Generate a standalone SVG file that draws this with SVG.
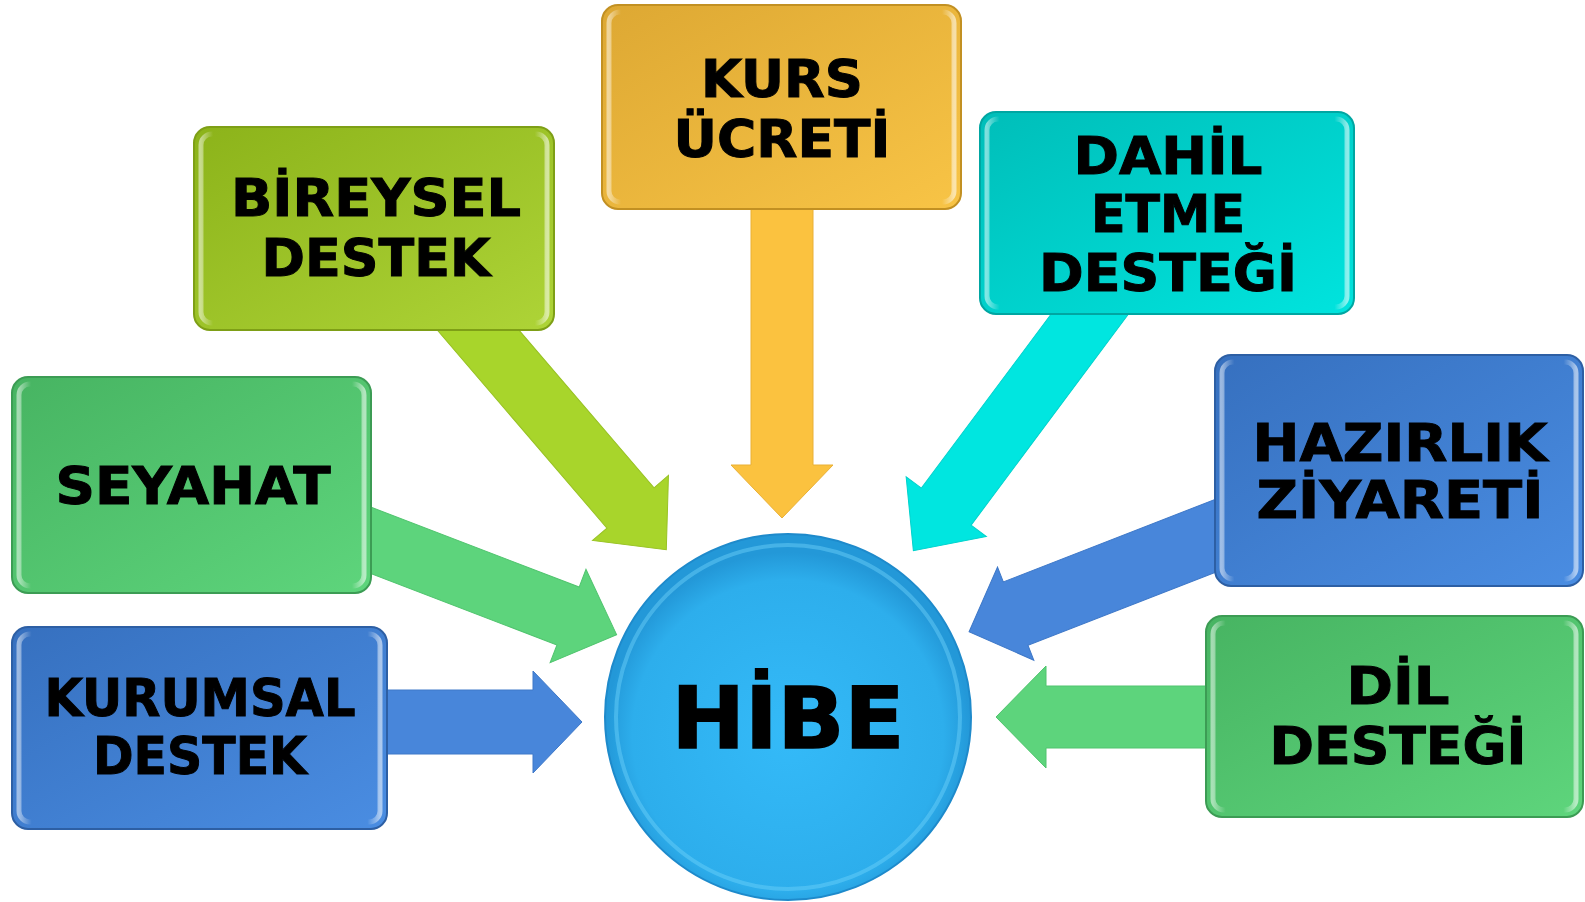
<svg xmlns="http://www.w3.org/2000/svg" width="1585" height="902" viewBox="0 0 1585 902">
<style>
text{font-family:"DejaVu Sans",Verdana,"Liberation Sans",sans-serif;font-weight:bold;fill:#000;stroke:#000;stroke-width:1;text-anchor:middle;font-size:52px}
.hibe{font-size:86px;stroke-width:1.5}
.bev{fill:none;stroke:url(#bevel);stroke-width:5}
.arr{stroke-width:1;stroke-linejoin:miter}
</style>
<defs>
<linearGradient id="gLime" x1="0" y1="0" x2="1" y2="1"><stop offset="0" stop-color="#8CB31A"/><stop offset="1" stop-color="#AED437"/></linearGradient>
<linearGradient id="gGold" x1="0" y1="0" x2="1" y2="1"><stop offset="0" stop-color="#DDA833"/><stop offset="1" stop-color="#F8C446"/></linearGradient>
<linearGradient id="gCyan" x1="0" y1="0" x2="1" y2="1"><stop offset="0" stop-color="#00BEB9"/><stop offset="1" stop-color="#00E4DE"/></linearGradient>
<linearGradient id="gGreen" x1="0" y1="0" x2="1" y2="1"><stop offset="0" stop-color="#47B462"/><stop offset="1" stop-color="#5ED57C"/></linearGradient>
<linearGradient id="gBlue" x1="0" y1="0" x2="1" y2="1"><stop offset="0" stop-color="#3670BF"/><stop offset="1" stop-color="#4A8DE2"/></linearGradient>
<linearGradient id="bevel" x1="0" y1="0" x2="1" y2="0">
<stop offset="0" stop-color="#fff" stop-opacity="0.5"/>
<stop offset="0.035" stop-color="#fff" stop-opacity="0"/>
<stop offset="0.965" stop-color="#fff" stop-opacity="0"/>
<stop offset="1" stop-color="#fff" stop-opacity="0.55"/>
</linearGradient>
<radialGradient id="gCircle" cx="0.5" cy="0.55" r="0.5"><stop offset="0" stop-color="#34BAF8"/><stop offset="0.85" stop-color="#2DAEEC"/><stop offset="1" stop-color="#2398D8"/></radialGradient>
</defs>
<rect width="1585" height="902" fill="#fff"/>
<g id="connectors">
<polygon class="arr" fill="#A8D52B" stroke="#98C224" transform="translate(460,309) rotate(49.4)" points="0,-31 262,-31 262,-50 317,0 262,50 262,31 0,31"/>
<polygon class="arr" fill="#FBC23F" stroke="#E9B036" transform="translate(782,190) rotate(90)" points="0,-31 275,-31 275,-51 328,0 275,51 275,31 0,31"/>
<polygon class="arr" fill="#00E6E0" stroke="#00D2CC" transform="translate(1107,291) rotate(126.7)" points="0,-31 269,-31 269,-50 324,0 269,50 269,31 0,31"/>
<polygon class="arr" fill="#5DD47C" stroke="#50C46E" transform="translate(344,530) rotate(21)" points="0,-31 240,-31 240,-50 292,0 240,50 240,31 0,31"/>
<polygon class="arr" fill="#4886DA" stroke="#3E78C8" transform="translate(360,722) rotate(0)" points="0,-32 173,-32 173,-51 222,0 173,51 173,32 0,32"/>
<polygon class="arr" fill="#4886DA" stroke="#3E78C8" transform="translate(1243,525) rotate(158.7)" points="0,-34 244,-34 244,-50 294,0 244,50 244,34 0,34"/>
<polygon class="arr" fill="#5DD47C" stroke="#50C46E" transform="translate(1230,717) rotate(180)" points="0,-31 184,-31 184,-51 234,0 184,51 184,31 0,31"/>
</g>
<g id="bireysel">
<rect x="194" y="127" width="360" height="203" rx="16" fill="url(#gLime)" stroke="#7E9F16" stroke-width="2"/>
<rect class="bev" x="201" y="134" width="346" height="189" rx="11"/>
<text x="376" y="216" textLength="290" lengthAdjust="spacingAndGlyphs">BİREYSEL</text>
<text x="376" y="276" textLength="229" lengthAdjust="spacingAndGlyphs">DESTEK</text>
</g>
<g id="kurs">
<rect x="602" y="5" width="359" height="204" rx="16" fill="url(#gGold)" stroke="#C29022" stroke-width="2"/>
<rect class="bev" x="609" y="12" width="345" height="190" rx="11"/>
<text x="782" y="97" textLength="162" lengthAdjust="spacingAndGlyphs">KURS</text>
<text x="782" y="157" textLength="217" lengthAdjust="spacingAndGlyphs">ÜCRETİ</text>
</g>
<g id="dahil">
<rect x="980" y="112" width="374" height="202" rx="16" fill="url(#gCyan)" stroke="#00A6A2" stroke-width="2"/>
<rect class="bev" x="987" y="119" width="360" height="188" rx="11"/>
<text x="1168" y="174" textLength="189" lengthAdjust="spacingAndGlyphs">DAHİL</text>
<text x="1168" y="232" textLength="154" lengthAdjust="spacingAndGlyphs">ETME</text>
<text x="1168" y="291" textLength="258" lengthAdjust="spacingAndGlyphs">DESTEĞİ</text>
</g>
<g id="seyahat">
<rect x="12" y="377" width="359" height="216" rx="16" fill="url(#gGreen)" stroke="#3C9C54" stroke-width="2"/>
<rect class="bev" x="19" y="384" width="345" height="202" rx="11"/>
<text x="193" y="504" textLength="275" lengthAdjust="spacingAndGlyphs">SEYAHAT</text>
</g>
<g id="kurumsal">
<rect x="12" y="627" width="375" height="202" rx="16" fill="url(#gBlue)" stroke="#2D5FA4" stroke-width="2"/>
<rect class="bev" x="19" y="634" width="361" height="188" rx="11"/>
<text x="200" y="716" textLength="311" lengthAdjust="spacingAndGlyphs">KURUMSAL</text>
<text x="200" y="774" textLength="214" lengthAdjust="spacingAndGlyphs">DESTEK</text>
</g>
<g id="hazirlik">
<rect x="1215" y="355" width="368" height="231" rx="16" fill="url(#gBlue)" stroke="#2D5FA4" stroke-width="2"/>
<rect class="bev" x="1222" y="362" width="354" height="217" rx="11"/>
<text x="1400" y="461" textLength="295" lengthAdjust="spacingAndGlyphs">HAZIRLIK</text>
<text x="1400" y="518" textLength="287" lengthAdjust="spacingAndGlyphs">ZİYARETİ</text>
</g>
<g id="dil">
<rect x="1206" y="616" width="377" height="201" rx="16" fill="url(#gGreen)" stroke="#3C9C54" stroke-width="2"/>
<rect class="bev" x="1213" y="623" width="363" height="187" rx="11"/>
<text x="1398" y="704" textLength="103" lengthAdjust="spacingAndGlyphs">DİL</text>
<text x="1398" y="764" textLength="257" lengthAdjust="spacingAndGlyphs">DESTEĞİ</text>
</g>
<g id="hibe">
<circle cx="788" cy="717" r="183" fill="url(#gCircle)" stroke="#1E8ACB" stroke-width="2"/>
<circle cx="788" cy="717" r="172" fill="none" stroke="#6FD2FB" stroke-opacity="0.45" stroke-width="4"/>
<text class="hibe" x="788" y="748" textLength="233" lengthAdjust="spacingAndGlyphs">HİBE</text>
</g>
</svg>
